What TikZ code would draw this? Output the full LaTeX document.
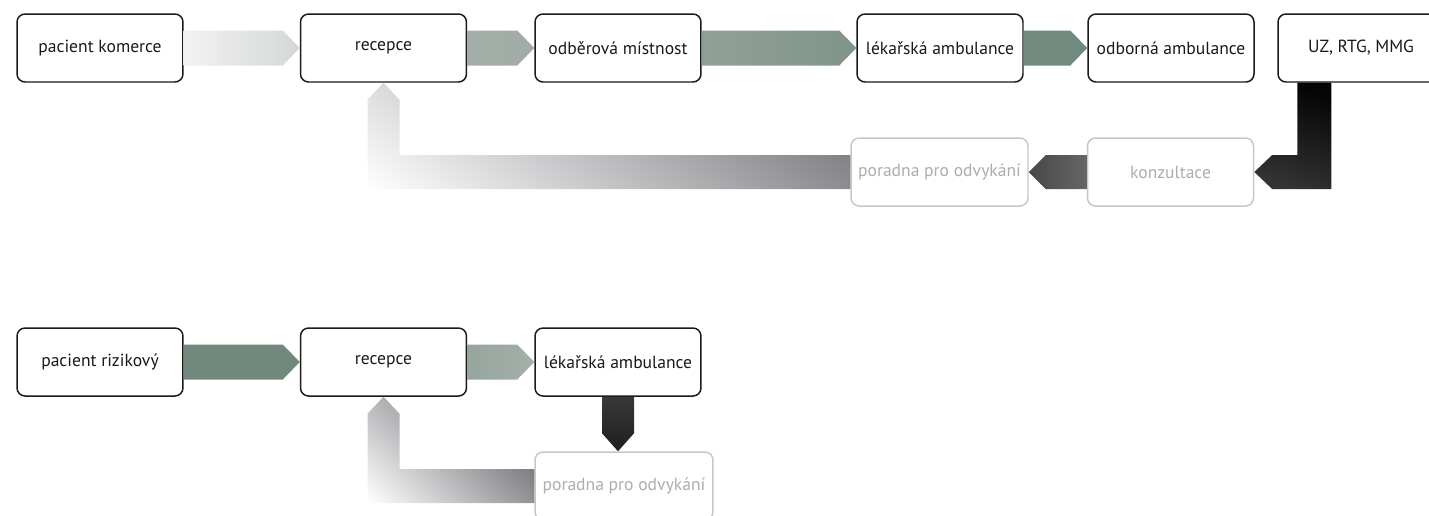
\documentclass[tikz,border=0pt]{standalone}
\usepackage{fontspec}
\setmainfont{PT Sans}
\usetikzlibrary{calc}

\definecolor{sage}{HTML}{71887D}
\definecolor{sagemid}{HTML}{83968C}
\definecolor{sagelight}{HTML}{A4AFA9}
\definecolor{sagepale}{HTML}{D3D8D5}
\definecolor{ink}{HTML}{1A1A1A}
\definecolor{slate}{HTML}{7A7A7F}

% short ramp in the middle, flat colour on both sides
\pgfdeclareverticalshading{fade}{100bp}{color(0bp)=(slate); color(41bp)=(slate);
  color(57.5bp)=(white); color(100bp)=(white)}

% band with a chevron head, running right or left between two nodes
\newcommand\rband[3]{%
  \path[#3] ($(#1.east)+(0,-17.5)$) -- ($(#2.west)+(-17,-17.5)$) -- (#2.west)
    -- ($(#2.west)+(-17,17.5)$) -- ($(#1.east)+(0,17.5)$) -- cycle;}
\newcommand\lband[3]{%
  \path[#3] ($(#1.west)+(0,-17)$) -- ($(#2.east)+(17,-17)$) -- (#2.east)
    -- ($(#2.east)+(17,17)$) -- ($(#1.west)+(0,17)$) -- cycle;}

\begin{document}
\begin{tikzpicture}[x=0.02cm, y=-0.02cm,
  box/.style={draw=ink, line width=0.85pt, rounded corners=0.16cm, fill=white,
              minimum width=3.32cm, minimum height=1.36cm, inner sep=2pt,
              text=ink, font=\fontsize{10}{12}\selectfont},
  faint/.style={box, draw=black!22, text=black!32},
]
\useasboundingbox (0,0) rectangle (1429,515);
\clip (0,0) rectangle (1429,515);

% upper flow
\node[box] (pk)   at (100,48)   {pacient komerce};
\node[box] (rec)  at (383.5,48) {recepce};
\node[box] (odb)  at (618,48)   {odběrová místnost};
\node[box] (lek)  at (940,48)   {lékařská ambulance};
\node[box] (obor) at (1171,48)  {odborná ambulance};
\node[box] (uz)   at (1361,48)  {UZ, RTG, MMG};
\node[faint] (konz) at (1170.5,172) {konzultace};
\node[faint, minimum width=3.54cm] (por) at (939.5,172) {poradna pro odvykání};

\rband{pk}{rec}{left color=white!95!black, right color=sagepale}
\rband{rec}{odb}{left color=sagelight, right color=sagelight!92!sage}
\rband{odb}{lek}{left color=sagemid!90!white, right color=sagemid!85!sage}
\rband{lek}{obor}{fill=sage!95!sagemid}

% back loop from UZ
\coordinate (z1) at ($(uz.south west)+(20,0)$);
\coordinate (z2) at ($(uz.south west)+(54,0)$);
\coordinate (z3) at ($(konz.east)+(18,-17)$);
\coordinate (z4) at ($(konz.east)+(18,17)$);
\path[top color=black!98, bottom color=black!80, shading angle=-20]
  (z1) -- (z2) -- (z2 |- z4) -- (z4) -- (konz.east) -- (z3) -- (z1 |- z3) -- cycle;

\lband{konz}{por}{left color=black!72, right color=black!60}

% back to reception
\coordinate (t1) at ($(rec.south)+(16,17)$);
\coordinate (t2) at ($(por.west)+(0,-17)$);
\coordinate (t3) at ($(por.west)+(0,17)$);
\coordinate (t4) at ($(rec.south)+(-16,17)$);
\path[path picture={\shade[shading=fade, shading angle=144]
        ($(t4 |- t3)+(88,-121)$) ++(-500,-500) rectangle ++(1000,1000);}]
  (rec.south) -- (t1) -- (t1 |- t2) -- (t2) -- (t3) -- (t4 |- t3) -- (t4) -- cycle;

% lower flow
\node[box] (pr)   at (100,362)   {pacient rizikový};
\node[box] (rec2) at (383.5,362) {recepce};
\node[box] (lek2) at (618,362)   {lékařská ambulance};
\node[faint, minimum width=3.56cm] (por2) at (624,486) {poradna pro odvykání};

\rband{pr}{rec2}{fill=sage}
\rband{rec2}{lek2}{left color=sagemid!85!white, right color=sagelight}

\path[top color=black!78, bottom color=black!88]
  ($(lek2.south)+(-16,0)$) -- ($(lek2.south)+(16,0)$)
  -- ($(lek2.south |- por2.north)+(16,-18)$) -- (lek2.south |- por2.north)
  -- ($(lek2.south |- por2.north)+(-16,-18)$) -- cycle;

\coordinate (u1) at ($(rec2.south)+(16,17)$);
\coordinate (u2) at ($(por2.west)+(0,-17)$);
\coordinate (u3) at ($(por2.west)+(0,17)$);
\coordinate (u4) at ($(rec2.south)+(-16,17)$);
\path[path picture={\shade[shading=fade, shading angle=136]
        ($(u4 |- u3)+(45,-47)$) ++(-217,-217) rectangle ++(434,434);}]
  (rec2.south) -- (u1) -- (u1 |- u2) -- (u2) -- (u3) -- (u4 |- u3) -- (u4) -- cycle;
\end{tikzpicture}
\end{document}
